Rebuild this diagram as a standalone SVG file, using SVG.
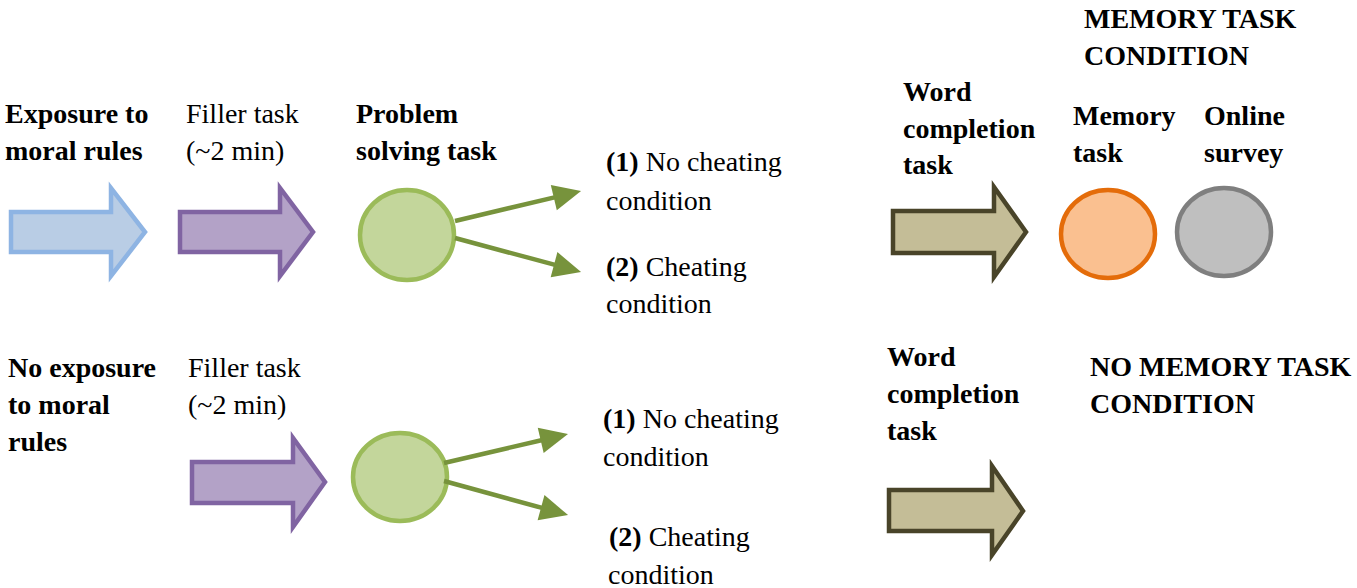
<svg xmlns="http://www.w3.org/2000/svg" width="1357" height="588" viewBox="0 0 1357 588">
<style>
text{font-family:"Liberation Serif","Times New Roman",serif;font-size:28px;fill:#000}
.b{font-weight:bold}
.blue{fill:#b9cde5;stroke:#8eb4e3;stroke-width:4.5}
.purple{fill:#b3a2c7;stroke:#8064a2;stroke-width:4.5}
.tan{fill:#c4bd97;stroke:#494429;stroke-width:4.5}
.green{fill:#c3d69b;stroke:#9bbb59;stroke-width:4.5}
.orange{fill:#fac090;stroke:#e46c0a;stroke-width:4.5}
.gray{fill:#bfbfbf;stroke:#7f7f7f;stroke-width:4.5}
.conn{stroke:#77933c;stroke-width:4.5;fill:none;marker-end:url(#ah)}
</style>
<defs>
<marker id="ah" markerUnits="userSpaceOnUse" markerWidth="28" markerHeight="26" refX="4" refY="13" orient="auto" overflow="visible">
<path d="M0,0 L28,13 L0,26 Z" fill="#77933c"/>
</marker>
</defs>
<rect width="1357" height="588" fill="#fff"/>

<g id="exposure-label"><text class="b" x="5" y="123">Exposure to</text><text class="b" x="5" y="160">moral rules</text></g>
<g id="exposure-arrow"><path class="blue" d="M11,212 H111 V188 L145,232 L111,276 V252 H11 Z"/></g>
<g id="filler1"><text x="186" y="123">Filler task</text><text x="186" y="160">(~2 min)</text>
<path class="purple" d="M180,212 H280 V188 L313,232 L280,276 V252 H180 Z"/></g>
<g id="problem1"><text class="b" x="356" y="123">Problem</text><text class="b" x="356" y="160">solving task</text>
<ellipse class="green" cx="407" cy="235" rx="47" ry="45"/></g>
<g id="cond1a"><text x="606" y="171"><tspan class="b">(1)</tspan> No cheating</text><text x="606" y="210">condition</text></g>
<g id="cond1b"><text x="606" y="276"><tspan class="b">(2)</tspan> Cheating</text><text x="606" y="313">condition</text></g>
<g id="word1"><text class="b" x="903" y="101">Word</text><text class="b" x="903" y="138">completion</text><text class="b" x="903" y="174">task</text>
<path class="tan" d="M893,211 H994 V187 L1026,232 L994,277 V253 H893 Z"/></g>
<g id="memcond"><text class="b" x="1084" y="28">MEMORY TASK</text><text class="b" x="1084" y="65">CONDITION</text></g>
<g id="memory"><text class="b" x="1073" y="125">Memory</text><text class="b" x="1073" y="162">task</text>
<ellipse class="orange" cx="1108" cy="234" rx="47" ry="44"/></g>
<g id="survey"><text class="b" x="1204" y="125">Online</text><text class="b" x="1204" y="162">survey</text>
<ellipse class="gray" cx="1224" cy="232" rx="47" ry="44"/></g>

<g id="noexposure-label"><text class="b" x="8" y="377">No exposure</text><text class="b" x="8" y="414">to moral</text><text class="b" x="8" y="451">rules</text></g>
<g id="filler2"><text x="188" y="377">Filler task</text><text x="188" y="414">(~2 min)</text>
<path class="purple" d="M192,462 H293 V438 L325,482 L293,527 V503 H192 Z"/></g>
<g id="problem2"><ellipse class="green" cx="400" cy="477" rx="47" ry="44"/></g>
<g id="cond2a"><text x="603" y="428"><tspan class="b">(1)</tspan> No cheating</text><text x="603" y="466">condition</text></g>
<g id="cond2b"><text x="609" y="546"><tspan class="b">(2)</tspan> Cheating</text><text x="608" y="584">condition</text></g>
<g id="word2"><text class="b" x="887" y="366">Word</text><text class="b" x="887" y="403">completion</text><text class="b" x="887" y="440">task</text>
<path class="tan" d="M889,490 H992 V466 L1023,511 L992,555 V531 H889 Z"/></g>
<g id="nomemcond"><text class="b" x="1090" y="376">NO MEMORY TASK</text><text class="b" x="1090" y="413">CONDITION</text></g>

<g id="connectors">
<line class="conn" x1="455" y1="221" x2="557.7" y2="196.6"/>
<line class="conn" x1="455" y1="238" x2="557.9" y2="265.7"/>
<line class="conn" x1="444" y1="463" x2="544.6" y2="439.5"/>
<line class="conn" x1="444" y1="481" x2="544.9" y2="508.7"/>
</g>
</svg>
